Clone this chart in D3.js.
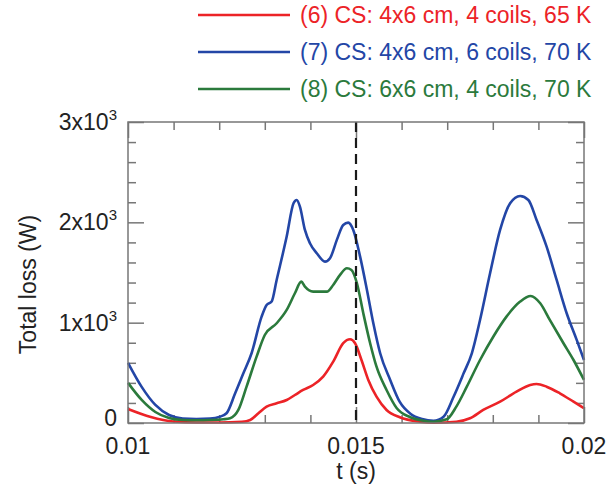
<!DOCTYPE html>
<html>
<head>
<meta charset="utf-8">
<script src="https://cdn.jsdelivr.net/npm/d3@7"></script>
<style>
  body { margin: 0; background: #fff; }
  svg { display: block; font-family: "Liberation Sans", Arial, sans-serif; }
</style>
</head>
<body>
<div id="chart"></div>
<script>
// series: (6) red, (7) blue, (8) green -- t in seconds, loss in W
const redT = [0.0100, 0.0105, 0.0110, 0.0115, 0.0120, 0.0125, 0.01268, 0.01286, 0.01304, 0.01326, 0.01348, 0.01366, 0.01384, 0.01406, 0.01428, 0.0145, 0.01472, 0.01487, 0.01498, 0.01512, 0.01527, 0.01545, 0.01567, 0.01596, 0.0164, 0.0167, 0.0172, 0.0175, 0.01779, 0.01816, 0.01852, 0.01882, 0.01896, 0.01918, 0.01947, 0.01977, 0.0200];
const redV = [140, 60, 15, 5, 5, 12, 30, 97, 163, 196, 229, 279, 329, 379, 462, 611, 795, 834, 795, 628, 429, 262, 130, 57, 13, 3, 13, 47, 130, 212, 312, 379, 389, 362, 296, 212, 147];

const blueT = [0.0100, 0.0103, 0.0106, 0.0109, 0.0112, 0.0115, 0.0118, 0.0120, 0.01216, 0.01235, 0.01253, 0.01271, 0.01293, 0.01304, 0.01315, 0.01326, 0.01348, 0.01363, 0.01370, 0.01377, 0.01388, 0.01399, 0.01414, 0.01432, 0.01443, 0.01458, 0.01472, 0.01483, 0.01494, 0.01509, 0.01524, 0.01538, 0.01553, 0.01575, 0.01596, 0.01620, 0.01645, 0.01670, 0.01692, 0.01714, 0.01736, 0.01754, 0.01772, 0.01794, 0.01816, 0.01838, 0.01860, 0.01878, 0.01896, 0.01918, 0.01940, 0.01962, 0.01984, 0.02000];
const blueV = [600, 360, 180, 80, 45, 40, 45, 60, 97, 296, 495, 695, 1060, 1176, 1210, 1426, 1858, 2190, 2223, 2157, 1924, 1792, 1692, 1608, 1642, 1825, 1974, 1997, 1924, 1658, 1326, 994, 695, 429, 210, 90, 40, 23, 63, 262, 495, 695, 1027, 1492, 1924, 2190, 2263, 2223, 2024, 1758, 1426, 1094, 828, 628];

const greenT = [0.0100, 0.0103, 0.0106, 0.0109, 0.0112, 0.0115, 0.0118, 0.01209, 0.01224, 0.01242, 0.0126, 0.01282, 0.0130, 0.01326, 0.01348, 0.01366, 0.0138, 0.01388, 0.01406, 0.01436, 0.0145, 0.01465, 0.0148, 0.0149, 0.01502, 0.01516, 0.01531, 0.01545, 0.01567, 0.01589, 0.01618, 0.01645, 0.0167, 0.01699, 0.0172, 0.01743, 0.01772, 0.01801, 0.0183, 0.0186, 0.01883, 0.01904, 0.01925, 0.01955, 0.01977, 0.0200];
const greenV = [400, 230, 110, 50, 30, 28, 30, 37, 47, 130, 362, 661, 877, 994, 1127, 1293, 1409, 1359, 1309, 1309, 1376, 1476, 1542, 1525, 1393, 1094, 795, 561, 329, 150, 60, 25, 13, 37, 163, 362, 628, 860, 1060, 1210, 1266, 1193, 1027, 795, 628, 429];

const legendLabels = [
  '(6) CS: 4x6 cm, 4 coils, 65 K',
  '(7) CS: 4x6 cm, 6 coils, 70 K',
  '(8) CS: 6x6 cm, 4 coils, 70 K',
];
const xMajorTicks = [0.01, 0.015, 0.02];
const xTickLabels = ['0.01', '0.015', '0.02'];
const yMajorTicks = [0, 1000, 2000, 3000];
const yTickMantissa = ['0', '1', '2', '3'];
const markerT = 0.015;

const width = 608;
const height = 492;
const margin = { top: 122, right: 24, bottom: 69, left: 128 };

const colours = ['#ec2327', '#2346a6', '#2b7a3c'];
const frameColour = '#777';
const fontSize = 23;

const series = [
  { t: redT, v: redV },
  { t: blueT, v: blueV },
  { t: greenT, v: greenV },
];

const svg = d3.select('#chart').append('svg')
  .attr('width', width)
  .attr('height', height);

const x = d3.scaleLinear().domain([0.01, 0.02]).range([margin.left, width - margin.right]);
const y = d3.scaleLinear().domain([0, 3000]).range([height - margin.bottom, margin.top]);

const [x0, x1] = x.range();
const [y0, y1] = y.range();

// inward ticks on all four sides
const xMinor = d3.range(0.010, 0.0205, 0.001).filter(t => !xMajorTicks.some(m => Math.abs(m - t) < 1e-9));
const yMinor = d3.range(0, 3001, 200).filter(v => v % 1000 !== 0);

const bottomAxis = (len, ticks) => d3.axisBottom(x).tickValues(ticks).tickSizeInner(-len).tickSizeOuter(0).tickFormat('');
const topAxis = (len, ticks) => d3.axisTop(x).tickValues(ticks).tickSizeInner(-len).tickSizeOuter(0).tickFormat('');
const leftAxis = (len, ticks) => d3.axisLeft(y).tickValues(ticks).tickSizeInner(-len).tickSizeOuter(0).tickFormat('');
const rightAxis = (len, ticks) => d3.axisRight(y).tickValues(ticks).tickSizeInner(-len).tickSizeOuter(0).tickFormat('');

const axes = svg.append('g').attr('class', 'ticks');
[
  [bottomAxis(8, xMinor), `translate(0,${y0})`],
  [bottomAxis(16, xMajorTicks), `translate(0,${y0})`],
  [topAxis(8, xMinor), `translate(0,${y1})`],
  [topAxis(16, xMajorTicks), `translate(0,${y1})`],
  [leftAxis(8, yMinor), `translate(${x0},0)`],
  [leftAxis(16, yMajorTicks), `translate(${x0},0)`],
  [rightAxis(8, yMinor), `translate(${x1},0)`],
  [rightAxis(16, yMajorTicks), `translate(${x1},0)`],
].forEach(([ax, tr]) => {
  const g = axes.append('g').attr('transform', tr).call(ax);
  g.select('.domain').remove();
  g.selectAll('line').attr('stroke', frameColour).attr('stroke-width', 1.5);
});

// curves
const line = d3.line()
  .x(d => x(d[0]))
  .y(d => y(d[1]))
  .curve(d3.curveMonotoneX);

const curves = svg.append('g');
series.forEach((s, i) => {
  curves.append('path')
    .datum(d3.zip(s.t, s.v))
    .attr('fill', 'none')
    .attr('stroke', colours[i])
    .attr('stroke-width', 2.6)
    .attr('stroke-linejoin', 'round')
    .attr('d', line);
});

// dashed marker at t = 0.015
svg.append('line')
  .attr('x1', x(markerT)).attr('x2', x(markerT))
  .attr('y1', y1).attr('y2', y0)
  .attr('stroke', '#1a1a1a')
  .attr('stroke-width', 2.2)
  .attr('stroke-dasharray', '10,6');

// frame
svg.append('rect')
  .attr('x', x0).attr('y', y1)
  .attr('width', x1 - x0).attr('height', y0 - y1)
  .attr('fill', 'none')
  .attr('stroke', frameColour)
  .attr('stroke-width', 1.5);

// tick labels
const labelColour = '#222';
svg.append('g').selectAll('text')
  .data(xMajorTicks)
  .join('text')
  .attr('x', d => x(d))
  .attr('y', y0 + 31)
  .attr('text-anchor', 'middle')
  .attr('font-size', fontSize)
  .attr('fill', labelColour)
  .text((d, i) => xTickLabels[i]);

const yLabels = svg.append('g');
yMajorTicks.forEach((v, i) => {
  const t = yLabels.append('text')
    .attr('x', x0 - 11)
    .attr('y', y(v) + (v === 0 ? 3 : 8))
    .attr('text-anchor', 'end')
    .attr('font-size', fontSize)
    .attr('fill', labelColour);
  if (v === 0) {
    t.text('0');
  } else {
    t.append('tspan').text(`${yTickMantissa[i]}x10`);
    t.append('tspan').attr('font-size', 15).attr('dy', -10).text('3');
  }
});

// axis titles
svg.append('text')
  .attr('x', x(markerT))
  .attr('y', y0 + 56)
  .attr('text-anchor', 'middle')
  .attr('font-size', fontSize)
  .attr('fill', labelColour)
  .text('t (s)');

svg.append('text')
  .attr('transform', `translate(36,${(y0 + y1) / 2 + 12}) rotate(-90)`)
  .attr('text-anchor', 'middle')
  .attr('font-size', fontSize)
  .attr('fill', labelColour)
  .text('Total loss (W)');

// legend
const legend = svg.append('g');
legendLabels.forEach((lbl, i) => {
  const ly = 15 + i * 37;
  legend.append('line')
    .attr('x1', 198).attr('x2', 290)
    .attr('y1', ly).attr('y2', ly)
    .attr('stroke', colours[i])
    .attr('stroke-width', 2.6);
  legend.append('text')
    .attr('x', 300)
    .attr('y', ly + 8)
    .attr('font-size', fontSize)
    .attr('fill', colours[i])
    .text(lbl);
});
</script>
</body>
</html>
